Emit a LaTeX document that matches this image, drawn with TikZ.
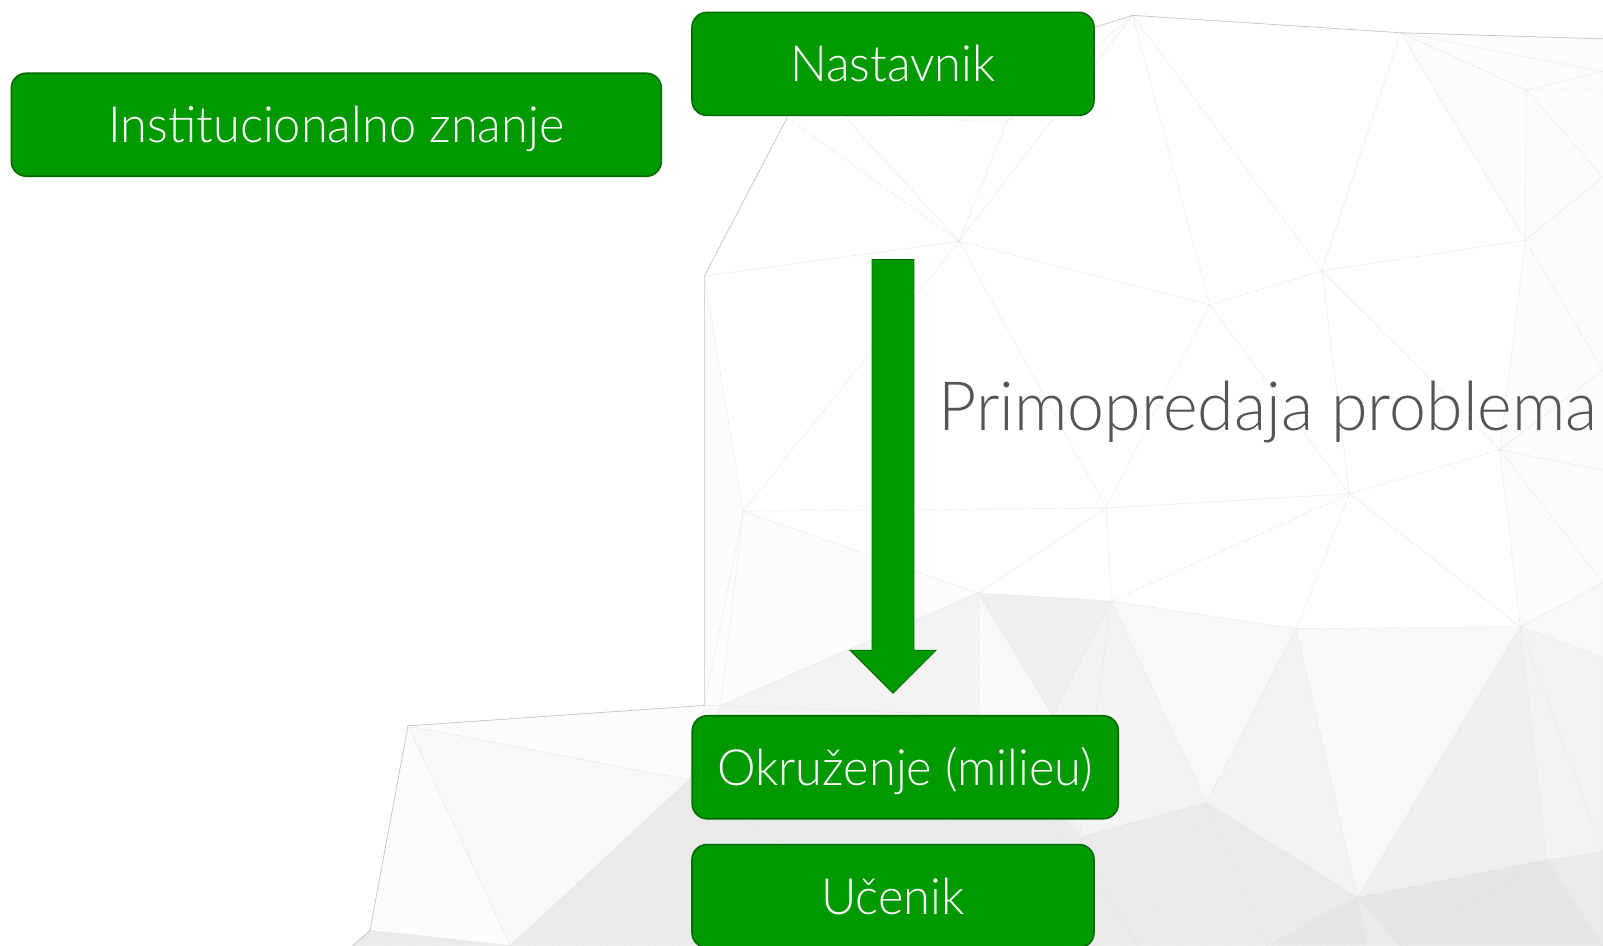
\documentclass[tikz,border=0pt]{standalone}
\usepackage{graphicx}
\usepackage{fontspec}
\IfFontExistsTF{Lato Light}{\setmainfont{Lato Light}}{\setmainfont{Lato}}
\usetikzlibrary{calc}
\definecolor{boxgreen}{HTML}{009900}
\definecolor{boxedge}{HTML}{006C00}
\definecolor{labelgray}{HTML}{555555}
\definecolor{meshline}{HTML}{E3E3E3}
\definecolor{meshrim}{HTML}{C6C6C6}
\definecolor{m0}{HTML}{FFFFFF}
\definecolor{m1}{HTML}{FCFCFC}
\definecolor{m2}{HTML}{F8F8F8}
\definecolor{m3}{HTML}{F3F3F3}
\definecolor{m4}{HTML}{EFEFEF}
\definecolor{m5}{HTML}{EAEAEA}
\definecolor{m6}{HTML}{E5E5E5}
% box caption, slightly condensed
\newcommand\boxcaption[1]{\scalebox{0.975}[1]{#1}}
\begin{document}
\begin{tikzpicture}[x=1.0223pt,y=-1.0223pt,
  greenbox/.style={draw=boxedge, line width=1.6pt, fill=boxgreen, rounded corners=15pt,
    text=white, font=\fontsize{50}{60}\selectfont, inner sep=0pt,
    text height=36pt, text depth=0pt, minimum height=103pt},
  meshedge/.style={draw=meshline, line width=0.4pt, dash pattern=on 1pt off 1.4pt},
  meshborder/.style={draw=meshrim, line width=0.7pt},
  arrowbody/.style={fill=boxgreen, draw=boxedge, line width=0.9pt}]
\useasboundingbox (0,0) rectangle (1568,925);
\fill[white] (0,0) rectangle (1568,925);

% low-poly background mesh: vertices
\coordinate (Nb) at (1060,30);  \coordinate (A) at (1108,15);
\coordinate (B) at (1370,32);   \coordinate (C) at (1568,38);
\coordinate (Cr) at (1568,70);  \coordinate (L) at (1493,88);
\coordinate (Lr) at (1568,88);  \coordinate (K) at (1492,235);
\coordinate (Kr) at (1568,173); \coordinate (D0) at (770,115);
\coordinate (H0) at (826,114);  \coordinate (H1) at (985,119);
\coordinate (H) at (938,236);   \coordinate (I) at (1183,298);
\coordinate (J) at (1293,265);  \coordinate (D) at (689,270);
\coordinate (P) at (727,500);   \coordinate (M) at (1082,497);
\coordinate (N) at (1320,483);  \coordinate (O) at (1467,440);
\coordinate (Or1) at (1568,362);\coordinate (Or2) at (1568,460);
\coordinate (Q) at (957,580);   \coordinate (R) at (1087,588);
\coordinate (S) at (1268,615);  \coordinate (T) at (1487,613);
\coordinate (Tr1) at (1568,570);\coordinate (Tr2) at (1568,643);
\coordinate (U) at (1180,785);  \coordinate (V) at (1328,878);
\coordinate (X) at (1513,841);  \coordinate (Xr) at (1568,833);
\coordinate (E) at (689,690);   \coordinate (E2) at (705,690);
\coordinate (F) at (399,710);   \coordinate (G) at (362,910);
\coordinate (Y) at (674,763);   \coordinate (W) at (1030,700);
\coordinate (Z) at (957,700);   \coordinate (Ul) at (1056,819);
\coordinate (b1) at (345,925);  \coordinate (b2) at (499,925);
\coordinate (b3) at (690,925);  \coordinate (b4) at (900,925);
\coordinate (b5) at (1113,925); \coordinate (b6) at (1239,925);
\coordinate (b7) at (1337,925); \coordinate (b8) at (1369,925);
\coordinate (b9) at (1568,925);

\def\meshlist{Nb/A/H1/m0, H1/A/H/m0, D0/H0/H/m0, H0/H1/H/m0, D0/D/H/m0,
  A/H/I/m0, A/I/J/m0, A/J/B/m0, B/J/K/m0, B/K/L/m1, B/L/Cr/m1, B/Cr/C/m1,
  L/Cr/Lr/m1, L/Lr/Kr/m1, L/Kr/K/m1, K/Kr/Or1/m1, K/Or1/O/m1, J/K/O/m0,
  J/O/N/m0, I/J/N/m0, I/N/M/m0, H/I/M/m0, H/M/P/m0, D/H/P/m0, D/P/E/m1,
  P/E/E2/m1, P/E2/Q/m1, P/Q/M/m0, M/Q/R/m0, M/R/N/m0, N/R/S/m0, N/S/T/m0,
  N/T/O/m0, O/T/Tr1/m1, O/Tr1/Or2/m1, O/Or2/Or1/m1,
  E2/Q/Z/m3, Z/Q/W/m2, Q/R/W/m4, W/R/Ul/m3, R/U/Ul/m3, R/S/U/m2, S/U/V/m3,
  S/V/T/m2, T/V/X/m4, T/X/Xr/m3, T/Xr/Tr2/m3, T/Tr2/Tr1/m2,
  U/V/b6/m5, U/b6/b5/m5, U/b5/Ul/m5, V/b6/b7/m6, V/b7/b8/m5, V/b8/X/m6,
  X/b8/b9/m6, X/b9/Xr/m5,
  F/E/Y/m1, E/E2/Y/m2, E2/Z/Y/m3, F/Y/b2/m2, F/b2/G/m1, G/b2/b1/m5,
  Y/b2/b3/m5, Y/b3/b4/m5, Y/b4/Z/m5, Z/b4/b5/m5, Z/b5/Ul/m5, Z/Ul/W/m4}
\begin{scope}
  \clip (0,0) rectangle (1568,925);
  \foreach \p/\q/\r/\c in \meshlist { \fill[\c] (\p) -- (\q) -- (\r) -- cycle; }
  \foreach \p/\q/\r/\c in \meshlist { \draw[meshedge] (\p) -- (\q) -- (\r) -- cycle; }
  \draw[meshborder] (Nb) -- (A) -- (B) -- (C);
  \draw[meshborder] (D0) -- (D) -- (E) -- (F) -- (G) -- (b1);
\end{scope}

% boxes
\node[greenbox, minimum width=650pt] (inst) at (329,122) {\boxcaption{Institucionalno znanje}};
\node[greenbox, minimum width=402pt] (nast) at (873.5,62.5) {\boxcaption{Nastavnik}};
\node[greenbox, minimum width=426pt] (okr) at (885.5,750.5) {\boxcaption{Okruženje (milieu)}};
\node[greenbox, minimum width=402pt] (ucen) at (873.5,876.5) {\boxcaption{Učenik}};

% hand-over arrow
\coordinate (arrtop) at (873.5,254);
\coordinate (arrtip) at (873.5,678);
\draw[arrowbody] ($(arrtop)+(-20.5,0)$) -- ($(arrtop)+(20.5,0)$)
  -- ($(arrtip)+(20.5,-42)$) -- ($(arrtip)+(42,-42)$) -- (arrtip)
  -- ($(arrtip)+(-42,-42)$) -- ($(arrtip)+(-20.5,-42)$) -- cycle;

\node[anchor=base west, inner sep=0pt, text=labelgray, font=\fontsize{68}{80}\selectfont]
  (handoff) at (918,421) {\scalebox{0.975}[1]{Primopredaja problema}};
\end{tikzpicture}
\end{document}
